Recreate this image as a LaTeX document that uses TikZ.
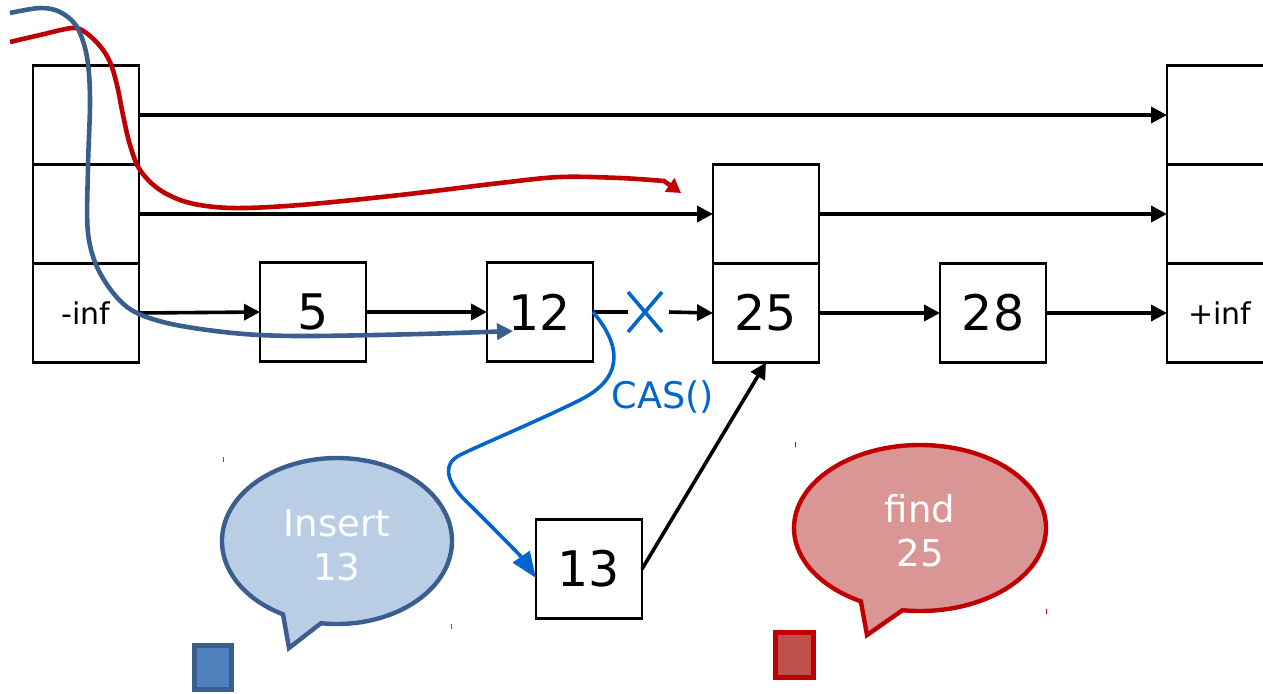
\documentclass[tikz,border=0pt]{standalone}
\usepackage{fontspec}
\setmainfont{DejaVu Sans}
\usetikzlibrary{arrows.meta,shapes.misc}
\definecolor{casblue}{HTML}{0066CC}
\definecolor{pathblue}{HTML}{3A5F8E}
\definecolor{pathred}{HTML}{C00000}
\definecolor{bubbleblue}{HTML}{B9CDE5}
\definecolor{bubblered}{HTML}{D99694}
\definecolor{sqblue}{HTML}{4F81BD}
\definecolor{sqred}{HTML}{C0504D}
\tikzset{
  box/.style={draw=black, line width=1.3pt, minimum width=53pt, minimum height=49.5pt, inner sep=0pt, outer sep=0pt},
  numtxt/.style={font=\fontsize{24.5}{28}\selectfont},
  inftxt/.style={font=\fontsize{15}{18}\selectfont},
  arr/.style={line width=1.8pt, -{Triangle[length=8pt,width=8pt]}},
  bubbletxt/.style={text=white, align=center, font=\fontsize{18.5}{22}\selectfont},
  tick/.style={line width=0.5pt}
}
\begin{document}
\begin{tikzpicture}[x=0.5pt,y=-0.5pt]
\useasboundingbox (0,0) rectangle (1263,693);

% -inf tower
\node[box] (m1) at (86,115) {};
\node[box] (m2) at (86,214) {};
\node[box,inftxt] (m3) at (86,313) {-inf};
% list nodes
\node[box,numtxt] (n5) at (313,312) {5};
\node[box,numtxt] (n12) at (540,312) {12};
\node[box] (n25a) at (766,214) {};
\node[box,numtxt] (n25b) at (766,313) {25};
\node[box,numtxt] (n28) at (993,313) {28};
% +inf tower
\node[box] (p1) at (1220,115) {};
\node[box] (p2) at (1220,214) {};
\node[box,inftxt] (p3) at (1220,313) {+inf};
% new node
\node[box,numtxt] (n13) at (589,569) {13};

% cross
\node[cross out, draw=casblue, line width=1.8pt, minimum width=17pt, minimum height=20pt, inner sep=0pt, outer sep=0pt] (xx) at (645,312) {};

% arrows
\draw[arr] (m1.east) -- (p1.west);
\draw[arr] (m2.east) -- (n25a.west);
\draw[arr] (n25a.east) -- (p2.west);
\draw[arr] (m3.east) -- (n5.west);
\draw[arr] (n5.east) -- (n12.west);
\draw[line width=1.8pt] (n12.east) -- (xx.west);
\draw[arr] ([xshift=3.5pt]xx.east) -- (n25b.west);
\draw[arr] (n25b.east) -- (n28.west);
\draw[arr] (n28.east) -- (p3.west);
\draw[arr] (n13.east) -- (n25b.south);

% CAS curve
\draw[casblue, line width=1.8pt, -{Triangle[length=13pt,width=10pt]}]
  (n12.east) .. controls (625,350) and (620,380) .. (580,400)
  .. controls (540,420) and (480,445) .. (460,455)
  .. controls (440,465) and (448,485) .. (470,505)
  .. controls (495,530) and (520,555) .. ([yshift=-4.5pt]n13.west);
\node[text=casblue, font=\fontsize{18.3}{22}\selectfont] (cas) at (663,397) {CAS()};

% red search path
\coordinate (redend) at (681,193);
\draw[pathred, line width=2.3pt, -{Triangle[length=7pt,width=8pt]}]
  plot[smooth, tension=0.55] coordinates {(10,42) (40,35) (72,28) (85,32) (100,46) (110,62) (117,85) (123,115) (130,145) (140,170) (160,190) (190,203) (233,208) (300,205) (400,195) (500,183) (560,177) (620,178) (664,181)} -- (redend);

% blue search path
\coordinate (blueend) at (513,331);
\draw[pathblue, line width=2.3pt, -{Triangle[length=8pt,width=8pt]}]
  plot[smooth, tension=0.55] coordinates {(10,13) (40,8) (60,12) (77,27) (87,57) (90,100) (88,167) (88,233) (100,273) (127,307) (167,323) (233,333) (300,336) (420,334) (blueend)};

% Insert bubble
\draw[pathblue, fill=bubbleblue, line width=2.2pt, line join=miter]
  (337,541) ++(98:115 and 83) arc[start angle=98, end angle=-242, x radius=115, y radius=83]
  -- (289,648) -- cycle;
\node[bubbletxt] (ins) at (337,545) {Insert\\13};

% find bubble
\draw[pathred, fill=bubblered, line width=2.2pt, line join=miter]
  (920,528) ++(98:126 and 83) arc[start angle=98, end angle=-242, x radius=126, y radius=83]
  -- (867,635) -- cycle;
\node[bubbletxt] (fnd) at (920,531) {find\\25};

% small squares
\draw[pathblue, fill=sqblue, line width=2.5pt] (194.5,645.5) rectangle (231.5,689.5);
\draw[pathred, fill=sqred, line width=2.5pt] (775.5,632.5) rectangle (813.5,677.5);

% tiny ticks
\draw[tick, pathblue] (223,457) -- (223,462);
\draw[tick, pathblue] (451,624) -- (451,629);
\draw[tick, pathred] (795,442) -- (795,447);
\draw[tick, pathred] (1046,609) -- (1046,614);
\end{tikzpicture}
\end{document}
